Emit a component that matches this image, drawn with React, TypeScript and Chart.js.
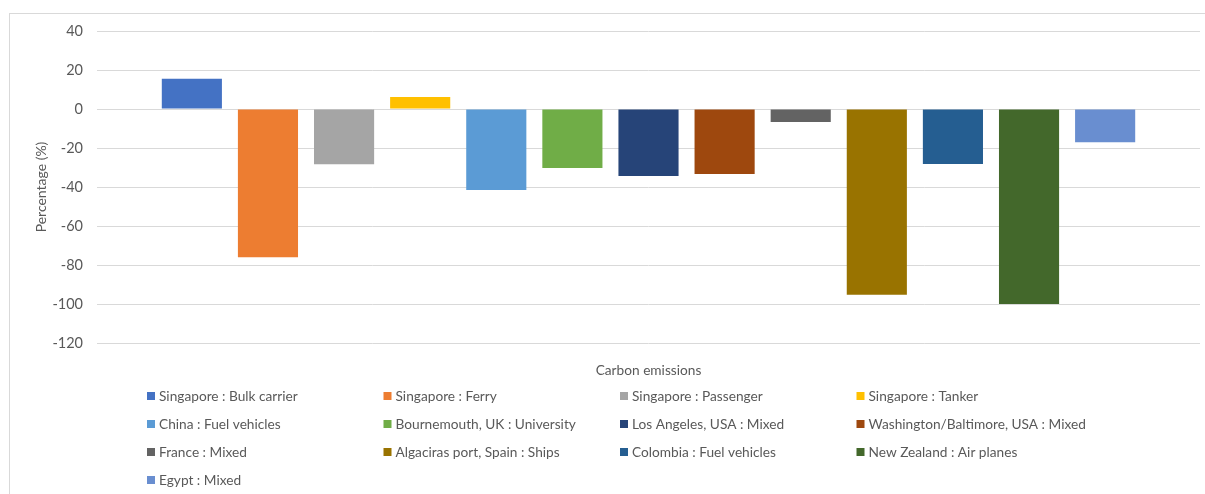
import React, { useEffect, useRef } from "react";
import { Chart, registerables } from "chart.js";

Chart.register(...registerables);

const CATEGORIES = ["Carbon emissions"];
const SERIES_NAMES = [
  "Singapore : Bulk carrier",
  "Singapore : Ferry",
  "Singapore : Passenger",
  "Singapore : Tanker",
  "China : Fuel vehicles",
  "Bournemouth, UK : University",
  "Los Angeles, USA : Mixed",
  "Washington/Baltimore, USA : Mixed",
  "France : Mixed",
  "Algaciras port, Spain : Ships",
  "Colombia : Fuel vehicles",
  "New Zealand : Air planes",
  "Egypt : Mixed",
];
const SERIES_VALUES = [15.5, -76, -28.3, 6.1, -41.5, -30.2, -34.3, -33.3, -6.7, -95.2, -28.2, -100, -17];
const SERIES_COLORS = [
  "#4472C4",
  "#ED7D31",
  "#A5A5A5",
  "#FFC000",
  "#5B9BD5",
  "#70AD47",
  "#264478",
  "#9E480E",
  "#636363",
  "#997300",
  "#255E91",
  "#43682B",
  "#698ED0",
];
const Y_MIN = -120;
const Y_MAX = 40;
const Y_STEP = 20;
const Y_TITLE = "Percentage (%)";

const FONT = "Lato";
const TEXT_COLOR = "#595959";
const GRID_COLOR = "#d9d9d9";

const gridLegend = {
  id: "gridLegend",
  afterDraw(chart: any) {
    const ctx = chart.ctx;
    const x0 = 147;
    const y0 = 396;
    const colW = 236.5;
    const rowH = 28;
    ctx.save();
    ctx.font = `13.7px ${FONT}`;
    ctx.textBaseline = "middle";
    ctx.textAlign = "left";
    chart.data.datasets.forEach((ds: any, i: number) => {
      const col = i % 4;
      const row = Math.floor(i / 4);
      const x = x0 + col * colW;
      const y = y0 + row * rowH;
      ctx.fillStyle = ds.backgroundColor;
      ctx.fillRect(x, y - 4, 8, 8);
      ctx.fillStyle = TEXT_COLOR;
      ctx.fillText(ds.label, x + 12, y + 0.5);
    });
    ctx.restore();
  },
};

export default function App() {
  const canvasRef = useRef<HTMLCanvasElement | null>(null);

  useEffect(() => {
    if (!canvasRef.current) return;
    const chart = new Chart(canvasRef.current, {
      type: "bar",
      data: {
        labels: CATEGORIES,
        datasets: SERIES_NAMES.map((name, i) => ({
          label: name,
          data: [SERIES_VALUES[i]],
          backgroundColor: SERIES_COLORS[i],
          borderWidth: 0,
          categoryPercentage: 0.897,
          barPercentage: 0.79,
        })),
      },
      options: {
        animation: false,
        responsive: false,
        devicePixelRatio: 1,
        layout: { padding: { top: 31, right: 5, left: 30, bottom: 0 } },
        plugins: {
          legend: { display: false },
          tooltip: { enabled: false },
        },
        scales: {
          x: {
            grid: { display: false },
            border: { display: false },
            ticks: {
              color: TEXT_COLOR,
              font: { family: FONT, size: 13.7 },
              padding: 11,
            },
            afterFit: (scale: any) => {
              scale.height = 151;
            },
          },
          y: {
            min: Y_MIN,
            max: Y_MAX,
            ticks: {
              stepSize: Y_STEP,
              color: TEXT_COLOR,
              font: { family: FONT, size: 14.5 },
              padding: 14,
            },
            grid: { color: GRID_COLOR, drawTicks: false, lineWidth: 1 },
            border: { display: false },
            title: {
              display: true,
              text: Y_TITLE,
              color: TEXT_COLOR,
              font: { family: FONT, size: 14 },
              padding: { top: 3, bottom: 4 },
            },
            afterFit: (scale: any) => {
              scale.width = 67;
            },
          },
        },
      },
      plugins: [gridLegend],
    });
    return () => chart.destroy();
  }, []);

  return (
    <div
      style={{
        position: "absolute",
        left: 0,
        top: 0,
        width: 1205,
        height: 494,
        overflow: "hidden",
        background: "#fff",
      }}
    >
      <div
        style={{
          position: "absolute",
          left: 9,
          top: 13,
          width: 1220,
          height: 500,
          border: `1px solid ${GRID_COLOR}`,
          boxSizing: "border-box",
        }}
      />
      <canvas
        ref={canvasRef}
        width={1205}
        height={494}
        style={{ position: "absolute", left: 0, top: 0, width: 1205, height: 494 }}
      />
    </div>
  );
}
